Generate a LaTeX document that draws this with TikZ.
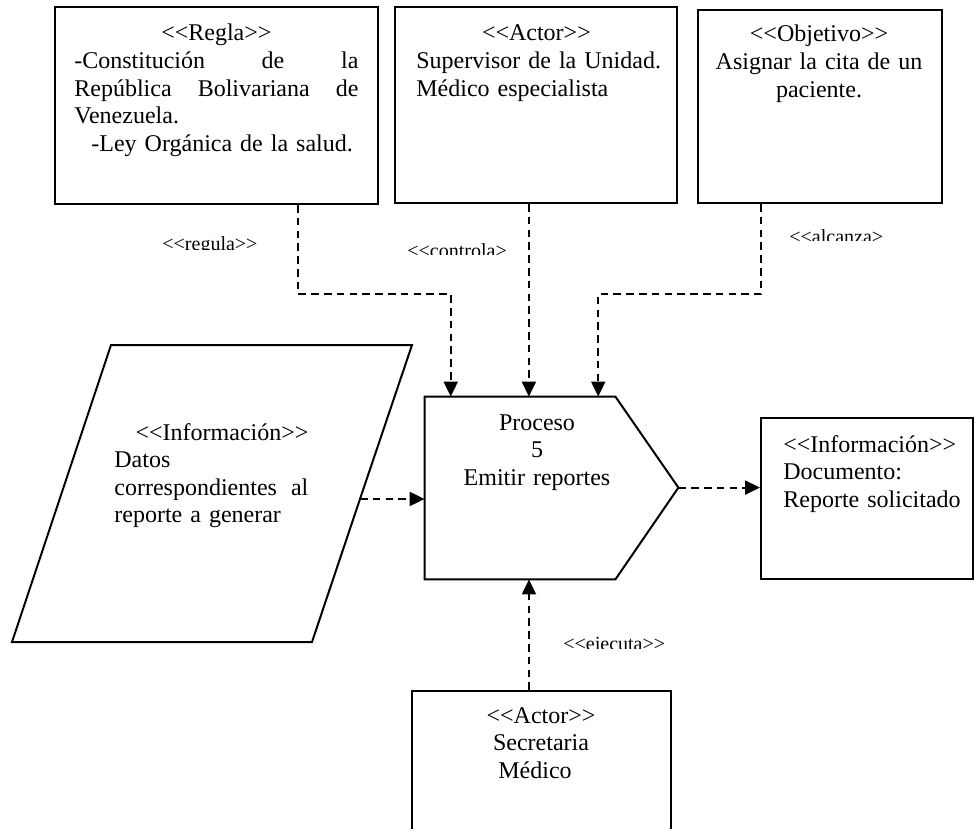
\documentclass[tikz,border=0pt]{standalone}
\usepackage{fontspec}
\setmainfont{Liberation Serif}[Ligatures=TeXOff]
\usetikzlibrary{arrows.meta,calc,fit}

\tikzset{
  caja/.style={draw, line width=1pt, inner sep=0pt},
  texto/.style={inner sep=0pt, anchor=base west, align=left},
  centrado/.style={inner sep=0pt, anchor=base, align=center},
  flujo/.style={line width=1pt, dash pattern=on 3.8pt off 2.6pt,
    -{Triangle[length=7.5pt,width=7pt]}},
  rotulo/.style={inner sep=0pt, anchor=base west, font=\fontsize{10}{12}\selectfont},
}

\begin{document}
\begin{tikzpicture}
[x=0.5pt,y=-0.5pt,font=\fontsize{12}{13.8}\selectfont]
\useasboundingbox (0,0) rectangle (975,829);
\clip (0,0) rectangle (975,829);

\node[caja, fit={(55,7) (378,204)}] (regla) {};
\node[caja, fit={(395,7) (677,203)}] (supervisor) {};
\node[caja, fit={(698,10) (942,203)}] (objetivo) {};
\node[caja, fit={(761,418) (973,579)}] (salida) {};
\node[caja, fit={(412,691) (671,880)}] (ejecutor) {};

\node[inner sep=0pt, fit={(425,397) (615,579)}] (proc) {};
\draw[line width=1pt] (proc.north west) -- (proc.north east)
  -- ++(63,91) coordinate (proc tip) -- (proc.south east) -- (proc.south west) -- cycle;

\draw[line width=1pt] (111,345) -- (412,345) -- (360,499) coordinate (datos out)
  -- (312,642) -- (12,642) -- cycle;

\node[texto, text width=142pt] (regla txt) at (74,41)
  {\makebox[\linewidth]{<<Regla>>}\\
   -Constitución \hfill de \hfill la\\
   República \hfill Bolivariana \hfill de\\
   Venezuela.\\
   \hspace*{8.5pt}-Ley Orgánica de la salud.};
\node[texto, text width=130pt] (supervisor txt) at (416,41)
  {\makebox[\linewidth]{<<Actor>>\hspace{10pt}}\\
   Supervisor de la Unidad.\\
   Médico especialista};
\node[centrado, text width=110pt] (objetivo txt) at (819,42)
  {<<Objetivo>>\\Asignar la cita de un\\paciente.};
\node[texto, text width=97pt] (datos txt) at (114,440)
  {\hspace*{\fill}<<Información>>\\
   Datos\\
   correspondientes \hfill al\\
   reporte a generar};
\node[centrado, text width=100pt] (proc txt) at (537,430)
  {Proceso\\5\\Emitir reportes};
\node[texto, text width=92pt] (salida txt) at (783,452)
  {<<Información>>\\Documento:\\Reporte solicitado};
\node[centrado, text width=100pt] (ejecutor txt) at (541,723)
  {<<Actor>>\\Secretaria\\\makebox[50pt]{Médico\hspace{6pt}}};

\path ($(regla.south west)!.75!(regla.south east)$) coordinate (r1)
      ($(supervisor.south west)!.475!(supervisor.south east)$) coordinate (s1)
      ($(objetivo.south west)!.262!(objetivo.south east)$) coordinate (o1)
      ($(ejecutor.north west)!.452!(ejecutor.north east)$) coordinate (e1);

\draw[flujo] (r1) -- ++(0,89) -| ($(proc.north west)!.137!(proc.north east)$);
\draw[flujo] (s1) -- (s1 |- proc.north);
\draw[flujo] (o1) -- ++(0,90) -| ($(proc.north west)!.91!(proc.north east)$);
\draw[flujo] (e1) -- (e1 |- proc.south);
\draw[flujo] (datos out) -- (datos out -| proc.west);
\draw[flujo] (proc tip) -- (proc tip -| salida.west);

% rotulos cortados por abajo
\begin{scope}
\clip (158,215) rectangle (290,249);
\node[rotulo] (regula) at (162,250) {<<regula>>};
\end{scope}
\begin{scope}
\clip (403,220) rectangle (525,254);
\node[rotulo] (controla) at (407,257) {<<controla>};
\end{scope}
\begin{scope}
\clip (785,207) rectangle (910,240);
\node[rotulo] (alcanza) at (789,243) {<<alcanza>};
\end{scope}
\begin{scope}
\clip (559,615) rectangle (700,648);
\node[rotulo] (ejecuta) at (563,650) {<<ejecuta>>};
\end{scope}
\end{tikzpicture}
\end{document}
